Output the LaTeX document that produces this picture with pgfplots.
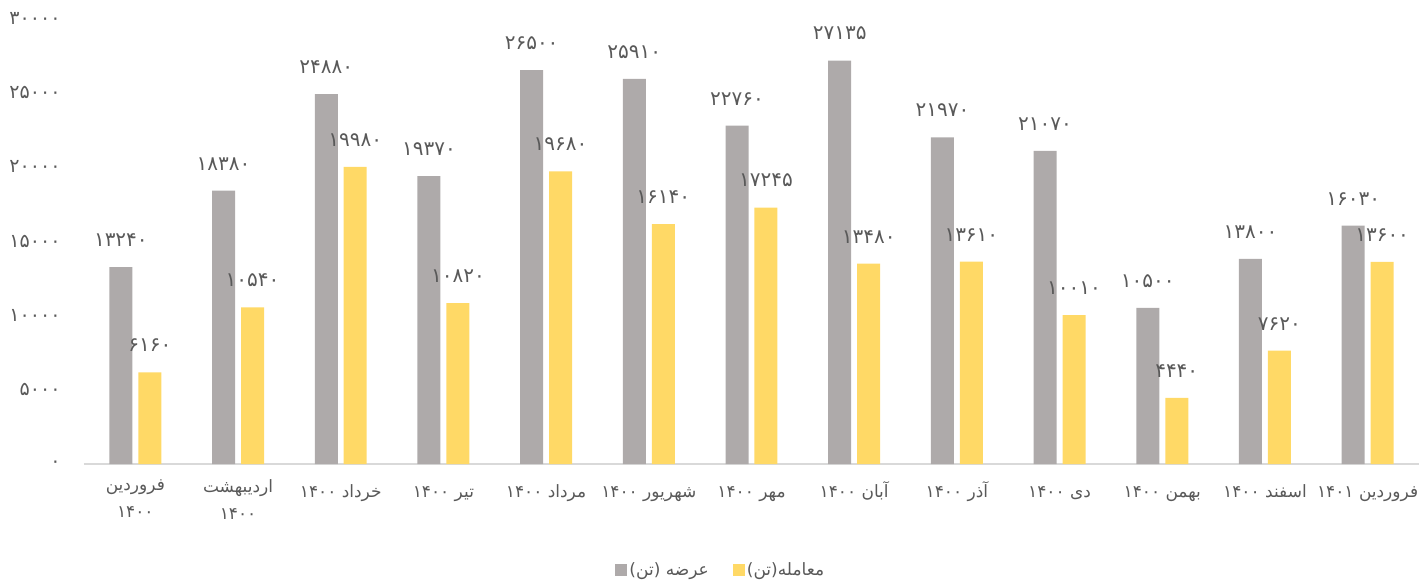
\documentclass[border=0pt]{standalone}
\usepackage{fontspec}
\usepackage{pgfplots}
\pgfplotsset{compat=1.18}
\TeXXeTstate=1
\newfontfamily\arabicfont[Script=Arabic]{DejaVu Sans}
\definecolor{supplygray}{HTML}{AEAAAA}
\definecolor{tradeyellow}{HTML}{FFD966}
\definecolor{labelgray}{HTML}{595959}
\definecolor{axisgray}{HTML}{D9D9D9}

\begin{document}
\begin{tikzpicture}
\useasboundingbox (0,0) rectangle (1419pt,581pt);
\begin{axis}[
    at={(84pt,117pt)}, anchor=south west,
    scale only axis, width=1335pt, height=446pt,
    xmin=-0.5, xmax=12.5, ymin=0, ymax=30000,
    ybar,
    axis x line=bottom, axis y line=left, axis line style={-},
    x axis line style={draw=axisgray, line width=1.5pt},
    y axis line style={draw=none},
    major tick length=0pt,
    scaled y ticks=false,
    xtick={0,...,12},
    xticklabels={
        {\beginR فروردین\endR\\\beginR ۱۴۰۰\endR},
        {\beginR اردیبهشت\endR\\\beginR ۱۴۰۰\endR},
        {\beginR خرداد ۱۴۰۰\endR},
        {\beginR تیر ۱۴۰۰\endR},
        {\beginR مرداد ۱۴۰۰\endR},
        {\beginR شهریور ۱۴۰۰\endR},
        {\beginR مهر ۱۴۰۰\endR},
        {\beginR آبان ۱۴۰۰\endR},
        {\beginR آذر ۱۴۰۰\endR},
        {\beginR دی ۱۴۰۰\endR},
        {\beginR بهمن ۱۴۰۰\endR},
        {\beginR اسفند ۱۴۰۰\endR},
        {\beginR فروردین ۱۴۰۱\endR}},
    ytick={0,5000,10000,15000,20000,25000,30000},
    yticklabels={۰,۵۰۰۰,۱۰۰۰۰,۱۵۰۰۰,۲۰۰۰۰,۲۵۰۰۰,۳۰۰۰۰},
    ticklabel style={text=labelgray},
    x tick label style={font=\arabicfont\fontsize{17pt}{27pt}\selectfont,
        align=center, anchor=north, yshift=-11.7pt,
        execute at begin node={\rule{0pt}{18pt}}},
    y tick label style={font=\arabicfont\fontsize{19pt}{22pt}\selectfont,
        anchor=east, xshift=-20pt},
    point meta=explicit symbolic,
    nodes near coords={\pgfplotspointmeta},
    every node near coord/.append style={font=\arabicfont\fontsize{20pt}{22pt}\selectfont,
        text=labelgray, anchor=center, yshift=27pt},
    legend style={at={(0.477,-0.238)}, anchor=center, draw=none, fill=none,
        legend columns=-1, font=\arabicfont\fontsize{17pt}{20pt}\selectfont, text=labelgray,
        /tikz/every even column/.append style={column sep=22pt}},
    legend image code/.code={\fill[#1] (0pt,-6pt) rectangle (12pt,6pt);},
]
% عرضه (تن)
\addplot[bar width=0.224, bar shift=-0.141, fill=supplygray, draw=none] coordinates {
    (0,13240) [۱۳۲۴۰]
    (1,18380) [۱۸۳۸۰]
    (2,24880) [۲۴۸۸۰]
    (3,19370) [۱۹۳۷۰]
    (4,26500) [۲۶۵۰۰]
    (5,25910) [۲۵۹۱۰]
    (6,22760) [۲۲۷۶۰]
    (7,27135) [۲۷۱۳۵]
    (8,21970) [۲۱۹۷۰]
    (9,21070) [۲۱۰۷۰]
    (10,10500) [۱۰۵۰۰]
    (11,13800) [۱۳۸۰۰]
    (12,16030) [۱۶۰۳۰]
};
\addlegendentry{\beginR عرضه (تن)\endR}
% معامله(تن)
\addplot[bar width=0.224, bar shift=0.141, fill=tradeyellow, draw=none] coordinates {
    (0,6160) [۶۱۶۰]
    (1,10540) [۱۰۵۴۰]
    (2,19980) [۱۹۹۸۰]
    (3,10820) [۱۰۸۲۰]
    (4,19680) [۱۹۶۸۰]
    (5,16140) [۱۶۱۴۰]
    (6,17245) [۱۷۲۴۵]
    (7,13480) [۱۳۴۸۰]
    (8,13610) [۱۳۶۱۰]
    (9,10010) [۱۰۰۱۰]
    (10,4440) [۴۴۴۰]
    (11,7620) [۷۶۲۰]
    (12,13600) [۱۳۶۰۰]
};
\addlegendentry{\beginR معامله(تن)\endR}
\end{axis}
\end{tikzpicture}
\end{document}
